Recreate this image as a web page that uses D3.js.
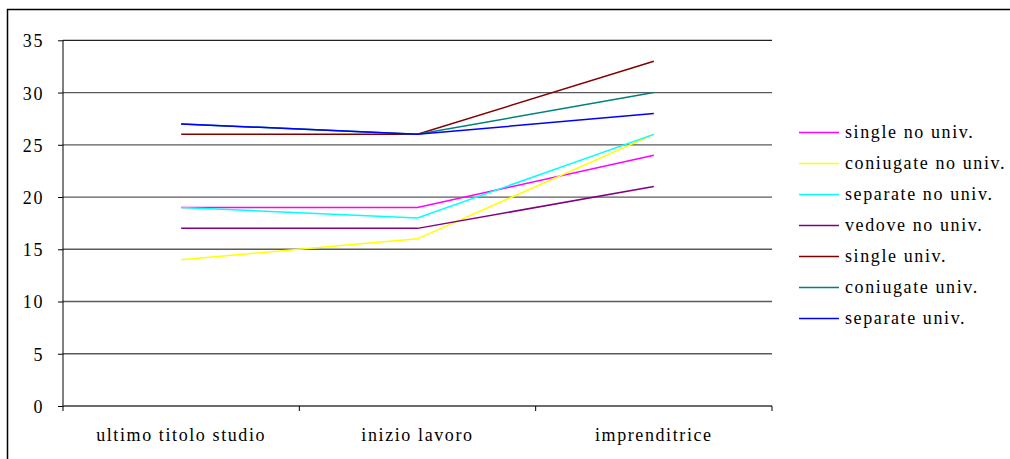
<!DOCTYPE html>
<html>
<head>
<meta charset="utf-8">
<script src="https://cdn.jsdelivr.net/npm/d3@7"></script>
<style>
  html, body { margin: 0; padding: 0; background: #fff; }
</style>
</head>
<body>
<svg id="chart" width="1010" height="459"></svg>
<script>
// Categories along the x axis
const categories = ["ultimo titolo studio", "inizio lavoro", "imprenditrice"];

// Series names and their values (one per category)
const seriesNames = [
  "single no univ.", "coniugate no univ.", "separate no univ.", "vedove no univ.",
  "single univ.", "coniugate univ.", "separate univ."
];
const singleNoUniv    = [19, 19, 24];
const coniugateNoUniv = [14, 16, 26];
const separateNoUniv  = [19, 18, 26];
const vedoveNoUniv    = [17, 17, 21];
const singleUniv      = [26, 26, 33];
const coniugateUniv   = [27, 26, 30];
const separateUniv    = [27, 26, 28];

const seriesColors = ["#ff00ff", "#ffff00", "#00ffff", "#800080", "#800000", "#008080", "#0000ff"];

// Y axis tick values
const yTicks = [0, 5, 10, 15, 20, 25, 30, 35];

const seriesValues = [singleNoUniv, coniugateNoUniv, separateNoUniv, vedoveNoUniv,
                      singleUniv, coniugateUniv, separateUniv];
const series = seriesNames.map((name, i) => ({ name, values: seriesValues[i], color: seriesColors[i] }));

const FONT = "Liberation Serif";
const FONT_SIZE = 18;
const SPACING = 1.6;

const svg = d3.select("#chart")
  .attr("font-family", FONT)
  .attr("font-size", FONT_SIZE);

// Outer frame of the chart (open to the right and bottom)
svg.append("rect")
  .attr("x", 7.5).attr("y", 9.5)
  .attr("width", 1020).attr("height", 470)
  .attr("fill", "none").attr("stroke", "#000").attr("stroke-width", 1.5);

const plot = { left: 63, right: 772, top: 40.3, bottom: 406 };

const x = d3.scaleBand().domain(categories).range([plot.left, plot.right]).padding(0);
const y = d3.scaleLinear().domain([0, 35]).range([plot.bottom, plot.top]);

// Horizontal gridlines
svg.append("g")
  .selectAll("line")
  .data(yTicks.filter(d => d > 0))
  .join("line")
  .attr("x1", plot.left).attr("x2", plot.right)
  .attr("y1", d => y(d)).attr("y2", d => y(d))
  .attr("stroke", d => d === 35 ? "#222" : "#5a5a5a").attr("stroke-width", 1.3);

// Y axis
const yAxis = svg.append("g")
  .attr("transform", `translate(${plot.left},0)`)
  .call(d3.axisLeft(y).tickValues(yTicks).tickSize(5).tickPadding(14));
yAxis.attr("font-family", FONT).attr("font-size", FONT_SIZE);
yAxis.selectAll("text").attr("fill", "#000").attr("letter-spacing", SPACING).attr("dy", "0.36em");
yAxis.selectAll("path, line").attr("stroke", "#000");
yAxis.select("path").attr("d", `M0,${plot.top}V${plot.bottom}`);

// X axis with ticks on category boundaries
const xAxis = svg.append("g")
  .attr("transform", `translate(0,${plot.bottom})`);
xAxis.append("line")
  .attr("x1", plot.left).attr("x2", plot.right)
  .attr("stroke", "#3a3a3a").attr("stroke-width", 1.3);
const boundaries = categories.map(c => x(c)).concat([x(categories[categories.length - 1]) + x.bandwidth()]);
xAxis.selectAll("line.tick")
  .data(boundaries)
  .join("line")
  .attr("class", "tick")
  .attr("x1", d => d).attr("x2", d => d)
  .attr("y1", 0).attr("y2", 5)
  .attr("stroke", "#000");
xAxis.selectAll("text")
  .data(categories)
  .join("text")
  .attr("x", d => x(d) + x.bandwidth() / 2)
  .attr("y", 35)
  .attr("text-anchor", "middle")
  .attr("letter-spacing", SPACING)
  .attr("fill", "#000")
  .text(d => d);

// Series lines
const line = d3.line()
  .x((d, i) => x(categories[i]) + x.bandwidth() / 2)
  .y(d => y(d));

svg.append("g")
  .selectAll("path")
  .data(series)
  .join("path")
  .attr("d", d => line(d.values))
  .attr("fill", "none")
  .attr("stroke", d => d.color)
  .attr("stroke-width", 1.5);

// Legend
const legend = svg.append("g").attr("transform", "translate(799,132.5)");
const rows = legend.selectAll("g")
  .data(series)
  .join("g")
  .attr("transform", (d, i) => `translate(0,${i * 31})`);
rows.append("line")
  .attr("x1", 0).attr("x2", 40)
  .attr("stroke", d => d.color).attr("stroke-width", 1.5);
rows.append("text")
  .attr("x", 46).attr("y", 5.5)
  .attr("fill", "#000")
  .attr("letter-spacing", SPACING)
  .text(d => d.name);
</script>
</body>
</html>
